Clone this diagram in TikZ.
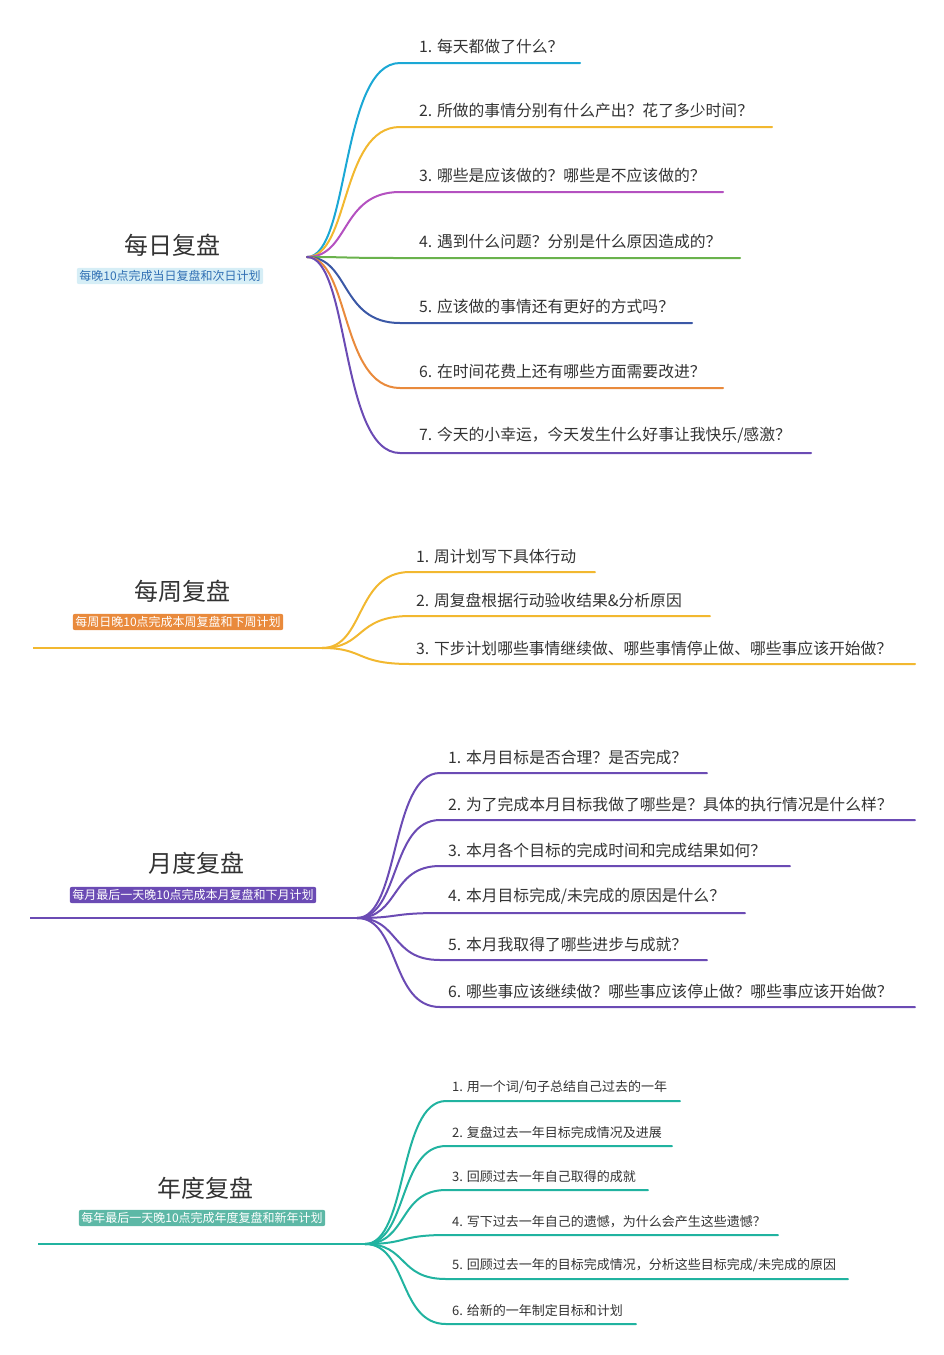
\documentclass[tikz,border=0pt]{standalone}
\usepackage{fontspec}
\setmainfont{Noto Sans CJK SC}
\definecolor{cCyan}{HTML}{1BA8D5}
\definecolor{cYel}{HTML}{F2B830}
\definecolor{cMag}{HTML}{B451C0}
\definecolor{cGrn}{HTML}{6AB24C}
\definecolor{cBlu}{HTML}{3B58A6}
\definecolor{cOra}{HTML}{E98A3C}
\definecolor{cPur}{HTML}{6B4BB4}
\definecolor{cTeal}{HTML}{21B3A0}
\definecolor{cSubBlue}{HTML}{D6EEF6}
\definecolor{cSubTeal}{HTML}{5DB8A6}
\definecolor{txt}{HTML}{333333}
\begin{document}
\begin{tikzpicture}[x=1pt,y=-1pt,
  branch/.style={line width=2pt,line cap=round},
  item/.style={anchor=south west,inner sep=1pt,font=\fontsize{15.8}{18}\selectfont,text=txt},
  title/.style={font=\fontsize{24}{26}\selectfont,text=txt},
  sub/.style={font=\fontsize{12}{14}\selectfont,rounded corners=2pt,inner sep=2.5pt}]
\useasboundingbox (0,0) rectangle (943,1355);

% daily
\coordinate (hubD) at (307,257);
\node[title] (tD) at (172,245) {每日复盘};
\node[sub,fill=cSubBlue,text=cBlu!70!cCyan] (sD) at (170,276) {每晚10点完成当日复盘和次日计划};
\foreach \n/\y/\e/\c/\t in {1/63/580/cCyan/{1. 每天都做了什么？},
  2/127/772/cYel/{2. 所做的事情分别有什么产出？花了多少时间？},
  3/192/723/cMag/{3. 哪些是应该做的？哪些是不应该做的？},
  4/258/740/cGrn/{4. 遇到什么问题？分别是什么原因造成的？},
  5/323/692/cBlu/{5. 应该做的事情还有更好的方式吗？},
  6/388/723/cOra/{6. 在时间花费上还有哪些方面需要改进？},
  7/453/811/cPur/{7. 今天的小幸运，今天发生什么好事让我快乐/感激？}}{
  \coordinate (eD\n) at (\e,\y);
  \node[item] (iD\n) at (418,\y-8) {\t};
  \draw[branch,\c] (hubD) .. controls (350,257) and (340,\y) .. (400,\y) -- (eD\n);
}

% weekly
\coordinate (hubW) at (322,648);
\coordinate (lW) at (33,648);
\node[title] (tW) at (182,591) {每周复盘};
\node[sub,fill=cOra,text=white] (sW) at (178,622) {每周日晚10点完成本周复盘和下周计划};
\draw[cYel,line width=1.2pt] (lW) -- (hubW);
\foreach \n/\y/\e/\t in {1/572/595/{1. 周计划写下具体行动},
  2/616/710/{2. 周复盘根据行动验收结果\&分析原因},
  3/664/915/{3. 下步计划哪些事情继续做、哪些事情停止做、哪些事应该开始做？}}{
  \coordinate (eW\n) at (\e,\y);
  \node[item] (iW\n) at (415,\y-7) {\t};
  \draw[branch,cYel] (hubW) .. controls (365,648) and (355,\y) .. (410,\y) -- (eW\n);
}

% monthly
\coordinate (hubM) at (357,918);
\coordinate (lM) at (30,918);
\node[title] (tM) at (196,863) {月度复盘};
\node[sub,fill=cPur,text=white] (sM) at (193,895) {每月最后一天晚10点完成本月复盘和下月计划};
\draw[cPur,line width=1.2pt] (lM) -- (hubM);
\foreach \n/\y/\e/\t in {1/773/707/{1. 本月目标是否合理？是否完成？},
  2/820/915/{2. 为了完成本月目标我做了哪些是？具体的执行情况是什么样？},
  3/866/790/{3. 本月各个目标的完成时间和完成结果如何？},
  4/913/745/{4. 本月目标完成/未完成的原因是什么？},
  5/960/707/{5. 本月我取得了哪些进步与成就？},
  6/1007/915/{6. 哪些事应该继续做？哪些事应该停止做？哪些事应该开始做？}}{
  \coordinate (eM\n) at (\e,\y);
  \node[item] (iM\n) at (447,\y-7) {\t};
  \draw[branch,cPur] (hubM) .. controls (400,918) and (390,\y) .. (440,\y) -- (eM\n);
}

% yearly
\coordinate (hubY) at (365,1244);
\coordinate (lY) at (38,1244);
\node[title] (tY) at (205,1188) {年度复盘};
\node[sub,fill=cSubTeal,text=white] (sY) at (202,1218) {每年最后一天晚10点完成年度复盘和新年计划};
\draw[cTeal,line width=1.2pt] (lY) -- (hubY);
\foreach \n/\y/\e/\t in {1/1101/680/{1. 用一个词/句子总结自己过去的一年},
  2/1146/672/{2. 复盘过去一年目标完成情况及进展},
  3/1190/648/{3. 回顾过去一年自己取得的成就},
  4/1235/778/{4. 写下过去一年自己的遗憾，为什么会产生这些遗憾？},
  5/1279/848/{5. 回顾过去一年的目标完成情况，分析这些目标完成/未完成的原因},
  6/1324/636/{6. 给新的一年制定目标和计划}}{
  \coordinate (eY\n) at (\e,\y);
  \node[item,font=\fontsize{13}{15}\selectfont] (iY\n) at (451,\y-6) {\t};
  \draw[branch,cTeal] (hubY) .. controls (408,1244) and (398,\y) .. (446,\y) -- (eY\n);
}
\end{tikzpicture}
\end{document}
